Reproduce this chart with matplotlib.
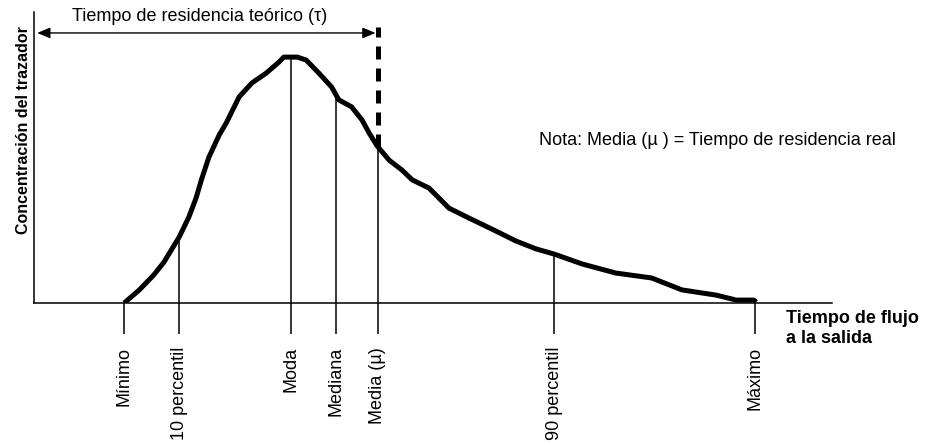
import matplotlib
matplotlib.use("Agg")
import matplotlib.pyplot as plt
import numpy as np

plt.rcParams['font.family'] = ['Liberation Sans', 'DejaVu Sans']

# Curva de concentración del trazador (tiempo, concentración)
tiempo = [11.3, 13.2, 15.0, 16.3, 18.2, 19.4, 20.3, 21.0, 21.9, 23.2, 24.1, 25.7,
          27.3, 29.1, 30.7, 31.3, 33.0, 34.1, 35.7, 37.3, 38.2, 39.8, 41.1, 42.0,
          43.0, 44.5, 46.1, 47.4, 49.5, 52.0, 54.5, 57.9, 60.4, 62.9, 65.2, 68.7,
          72.9, 77.4, 81.2, 85.5, 88.0, 90.2, 90.5]
concentracion = [0, 4.5, 9.6, 14.1, 22.7, 29.5, 36.0, 42.5, 50.0, 57.7, 61.9, 70.8,
                 75.6, 79.0, 82.8, 84.5, 84.5, 83.5, 79.0, 74.2, 69.8, 67.4, 62.9, 58.4,
                 54.0, 49.1, 45.7, 42.3, 39.5, 32.6, 29.2, 24.7, 21.3, 18.6, 16.8, 13.4,
                 10.3, 8.6, 4.5, 2.7, 1.0, 1.0, 0.3]

# Estadísticos marcados sobre el eje x
nombres = ["Mínimo", "10 percentil", "Moda", "Mediana", "Media (µ)", "90 percentil", "Máximo"]
posiciones = [11.3, 18.2, 32.2, 37.8, 43.1, 65.2, 90.4]
tau = 43.1  # tiempo de residencia teórico

fig = plt.figure(figsize=(9.25, 4.45), dpi=100)
ax = fig.add_axes([34 / 925, 1 - 303 / 445, 798 / 925, 291 / 445])

ax.plot(tiempo, concentracion, color='black', lw=3.6, solid_capstyle='butt')

# líneas verticales hasta la curva (menos mínimo y máximo)
alturas = np.interp(posiciones, tiempo, concentracion)
for p, h, n in zip(posiciones, alturas, nombres):
    if n in ("Mínimo", "Máximo"):
        continue
    ax.plot([p, p], [0, h], color='black', lw=1.1)

# línea discontinua gruesa en tau
ax.plot([tau, tau], [np.interp(tau, tiempo, concentracion), 94.8], color='black',
        lw=3.6, linestyle=(0, (2.6, 1.8)), dash_capstyle='butt')

# flecha doble del tiempo de residencia teórico
ax.annotate('', xy=(0.4, 92.8), xytext=(tau - 0.3, 92.8),
            arrowprops=dict(arrowstyle='<|-|>,head_length=0.6,head_width=0.25',
                            color='black', lw=1, mutation_scale=13,
                            shrinkA=0, shrinkB=0))
ax.text(20.8, 98.5, "Tiempo de residencia teórico (τ)", fontsize=13,
        ha='center', va='center')

ax.text(63.3, 56, "Nota: Media (µ ) = Tiempo de residencia real", fontsize=13,
        ha='left', va='center')

ax.set_xlim(0, 100)
ax.set_ylim(0, 100)
ax.spines['top'].set_visible(False)
ax.spines['right'].set_visible(False)
ax.spines['left'].set_linewidth(1.1)
ax.spines['bottom'].set_linewidth(1.1)
ax.set_yticks([])
ax.set_xticks(posiciones)
ax.set_xticklabels(nombres, rotation=90, fontsize=13)
ax.tick_params(axis='x', length=22.5, width=1.1, pad=9)

ax.set_ylabel("Concentración del trazador", fontsize=11.5, fontweight='bold')
ax.yaxis.set_label_coords(-0.004, 0.594)
ax.text(94.2, -2.4, "Tiempo de flujo\na la salida", fontsize=13, fontweight='bold',
        ha='left', va='top', clip_on=False)

fig.savefig("out.png", dpi=100)
